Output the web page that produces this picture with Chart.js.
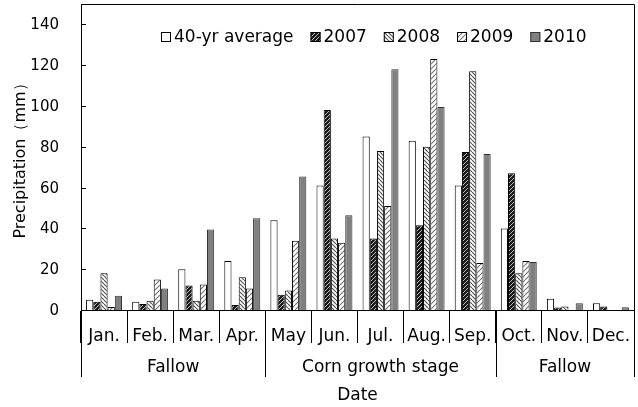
<!DOCTYPE html>
<html>
<head>
<meta charset="utf-8">
<script src="https://cdn.jsdelivr.net/npm/chart.js@4"></script>
<style>
  html, body { margin: 0; padding: 0; background: #fff; }
</style>
</head>
<body>
<canvas id="rainChart" width="638" height="407"></canvas>
<script>
// data (mm)
const months = ['Jan.', 'Feb.', 'Mar.', 'Apr.', 'May', 'Jun.', 'Jul.', 'Aug.', 'Sep.', 'Oct.', 'Nov.', 'Dec.'];
const avg40 = [5, 4, 20, 24, 44, 61, 85, 83, 61, 40, 5.5, 3.3];
const y2007 = [4, 3, 12, 2.5, 7.5, 98, 35, 41.5, 77.5, 67, 1.2, 1.7];
const y2008 = [18, 4.5, 4.5, 16, 9.5, 35, 78, 80, 117, 18, 1.7, 0];
const y2009 = [1.5, 15, 12.5, 10.5, 34, 33, 51, 123, 23, 24, 0, 0];
const y2010 = [7, 10.5, 39.5, 45, 65.5, 46.5, 118, 99.5, 76.5, 23.5, 3.3, 1.4];
const yTicks = [0, 20, 40, 60, 80, 100, 120, 140];
const groupLabels = ['Fallow', 'Corn growth stage', 'Fallow'];
const groupBreaks = [0, 4, 9, 12];

const FONT = 'DejaVu Sans';

// hatch fills
function hatch(bg, fg, dir, size, lw) {
  const c = document.createElement('canvas');
  c.width = size; c.height = size;
  const g = c.getContext('2d');
  g.fillStyle = bg;
  g.fillRect(0, 0, size, size);
  g.strokeStyle = fg;
  g.lineWidth = lw;
  g.beginPath();
  for (let k = -1; k <= 1; k++) {
    if (dir === '/') {
      g.moveTo(k * size, size); g.lineTo(k * size + size, 0);
    } else {
      g.moveTo(k * size, 0); g.lineTo(k * size + size, size);
    }
  }
  g.stroke();
  return g.createPattern(c, 'repeat');
}

const fill2007 = hatch('#1a1a1a', '#bdbdbd', '/', 4, 1);
const fill2008 = hatch('#ffffff', '#555555', '\\', 4, 1.2);
const fill2009 = hatch('#ffffff', '#777777', '/', 5, 1.2);

const extras = {
  id: 'extras',
  afterDraw(chart) {
    const { ctx, chartArea: a, scales: { x, y } } = chart;
    ctx.save();
    ctx.strokeStyle = '#000';
    ctx.lineWidth = 1;

    // top and right frame
    ctx.beginPath();
    ctx.moveTo(a.left, a.top + 0.5);
    ctx.lineTo(Math.round(a.right) + 0.5, a.top + 0.5);
    ctx.lineTo(Math.round(a.right) + 0.5, a.bottom);
    ctx.stroke();

    // inward y ticks and their labels
    ctx.beginPath();
    ctx.fillStyle = '#000';
    ctx.font = '15px "' + FONT + '"';
    ctx.textAlign = 'right';
    ctx.textBaseline = 'middle';
    y.ticks.forEach(t => {
      const py = Math.round(y.getPixelForValue(t.value)) + 0.5;
      ctx.moveTo(a.left, py);
      ctx.lineTo(a.left + 5, py);
      ctx.fillText(String(t.value), a.left - 22, py + 1);
    });
    ctx.stroke();

    // group separators + labels
    const half = (x.getPixelForValue(1) - x.getPixelForValue(0)) / 2;
    ctx.beginPath();
    groupBreaks.forEach(b => {
      const px = Math.round(x.getPixelForValue(b) - half) + 0.5;
      ctx.moveTo(px, a.bottom);
      ctx.lineTo(px, a.bottom + 67);
    });
    ctx.stroke();

    ctx.font = '17px "' + FONT + '"';
    ctx.textAlign = 'center';
    groupLabels.forEach((lab, i) => {
      const l = x.getPixelForValue(groupBreaks[i]) - half;
      const r = x.getPixelForValue(groupBreaks[i + 1]) - half;
      ctx.fillText(lab, (l + r) / 2, a.bottom + 58);
    });

    // legend inside plot
    let lx = 161;
    const ly = 37;
    ctx.textAlign = 'left';
    chart.data.datasets.forEach(ds => {
      ctx.fillStyle = ds.backgroundColor;
      ctx.fillRect(lx, ly - 5, 10, 10);
      ctx.strokeStyle = ds.borderColor;
      ctx.strokeRect(lx + 0.5, ly - 4.5, 9, 9);
      ctx.fillStyle = '#000';
      ctx.fillText(ds.label, lx + 13, ly + 1);
      lx += 13 + ctx.measureText(ds.label).width + 17;
    });
    ctx.restore();
  }
};

const ctx = document.getElementById('rainChart').getContext('2d');
const rainChart = new Chart(ctx, {
  type: 'bar',
  data: {
    labels: months,
    datasets: [
      { label: '40-yr average', data: avg40, backgroundColor: '#ffffff', borderColor: '#000' },
      { label: '2007', data: y2007, backgroundColor: fill2007, borderColor: '#000' },
      { label: '2008', data: y2008, backgroundColor: fill2008, borderColor: '#000' },
      { label: '2009', data: y2009, backgroundColor: fill2009, borderColor: '#000' },
      { label: '2010', data: y2010, backgroundColor: '#808080', borderColor: '#333' }
    ]
  },
  options: {
    responsive: false,
    animation: false,
    layout: { padding: { top: 4, right: 4, left: 0, bottom: 0 } },
    datasets: {
      bar: { borderWidth: 1, categoryPercentage: 0.78, barPercentage: 1.0 }
    },
    plugins: {
      legend: { display: false },
      tooltip: { enabled: false }
    },
    scales: {
      x: {
        offset: true,
        grid: { display: true, offset: true, drawOnChartArea: false, tickLength: 33, color: '#000' },
        border: { display: true, color: '#000' },
        ticks: { color: '#000', font: { family: FONT, size: 17 }, padding: -17, maxRotation: 0, autoSkip: false },
        title: { display: true, text: 'Date', color: '#000', font: { family: FONT, size: 17 }, padding: { top: 0, bottom: 1 } },
        afterFit: s => { s.height = 97; s.paddingLeft = 0; s.paddingRight = 0; }
      },
      y: {
        min: 0,
        max: 150,
        ticks: { display: false, stepSize: 20 },
        afterBuildTicks: s => { s.ticks = yTicks.map(v => ({ value: v })); },
        grid: { display: false },
        border: { display: true, color: '#000' },
        title: { display: true, text: 'Precipitation（mm）', color: '#000', font: { family: FONT, size: 16 }, padding: { top: 11, bottom: 0 } },
        afterFit: s => { s.width = 81; s.paddingTop = 0; s.paddingBottom = 0; }
      }
    }
  },
  plugins: [extras]
});
</script>
</body>
</html>
